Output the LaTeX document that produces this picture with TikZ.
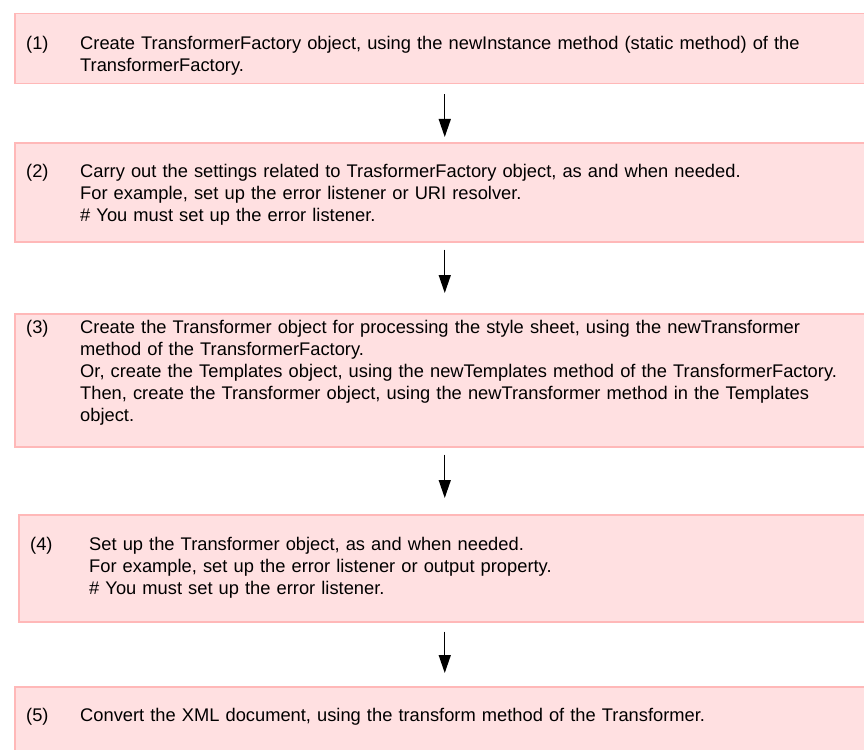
\documentclass[tikz,border=0pt]{standalone}
\usepackage{fontspec}
\setmainfont{Liberation Sans}
\usetikzlibrary{arrows.meta}
\definecolor{stepfill}{HTML}{FFE0E1}
\definecolor{stepline}{HTML}{FFB8B8}
\tikzset{
  stepbox/.style={draw=stepline,fill=stepfill,line width=1.5pt,anchor=north west,
    minimum width=860pt,inner sep=0pt},
  num/.style={anchor=base west,inner sep=0pt,font=\fontsize{18.3}{22}\selectfont},
  txt/.style={anchor=base west,inner sep=0pt,align=left,text width=790pt,
    font=\fontsize{18.3}{22}\selectfont},
  flow/.style={line width=1.4pt,-{Triangle[length=18pt,width=12pt]}}
}
\begin{document}
\begin{tikzpicture}[x=1pt,y=-1pt]
  \useasboundingbox (0,0) rectangle (864,749);
  \node[stepbox,minimum height=70pt] (b1) at (14,13) {};
  \node[stepbox,minimum height=99pt] (b2) at (14,142) {};
  \node[stepbox,minimum height=133pt] (b3) at (14,313) {};
  \node[stepbox,minimum height=107pt,minimum width=852pt] (b4) at (18,514) {};
  \node[stepbox,minimum height=80pt] (b5) at (14,686) {};
  % step texts
  \node[num] (n1) at (26,49.5) {(1)};
  \node[txt] (t1) at (80,49.5) {Create TransformerFactory object, using the newInstance method (static method) of the\\
    TransformerFactory.};
  \node[num] (n2) at (26,177) {(2)};
  \node[txt] (t2) at (80,177) {Carry out the settings related to TrasformerFactory object, as and when needed.\\
    For example, set up the error listener or URI resolver.\\
    \# You must set up the error listener.};
  \node[num] (n3) at (26,333) {(3)};
  \node[txt] (t3) at (80,333) {Create the Transformer object for processing the style sheet, using the newTransformer\\
    method of the TransformerFactory.\\
    Or, create the Templates object, using the newTemplates method of the TransformerFactory.\\
    Then, create the Transformer object, using the newTransformer method in the Templates\\
    object.};
  \node[num] (n4) at (30,550) {(4)};
  \node[txt] (t4) at (89,550) {Set up the Transformer object, as and when needed.\\
    For example, set up the error listener or output property.\\
    \# You must set up the error listener.};
  \node[num] (n5) at (26,721) {(5)};
  \node[txt] (t5) at (80,721) {Convert the XML document, using the transform method of the Transformer.};
  % arrows
  \draw[flow,shorten <=10pt,shorten >=5pt] (b1.south) -- (b2.north);
  \draw[flow,shorten <=7pt,shorten >=20pt] (b2.south) -- (b3.north);
  \draw[flow,shorten <=7pt,shorten >=16pt] (b3.south) -- (b4.north);
  \draw[flow,shorten <=9pt,shorten >=13pt] (b4.south) -- (b5.north);
\end{tikzpicture}
\end{document}
